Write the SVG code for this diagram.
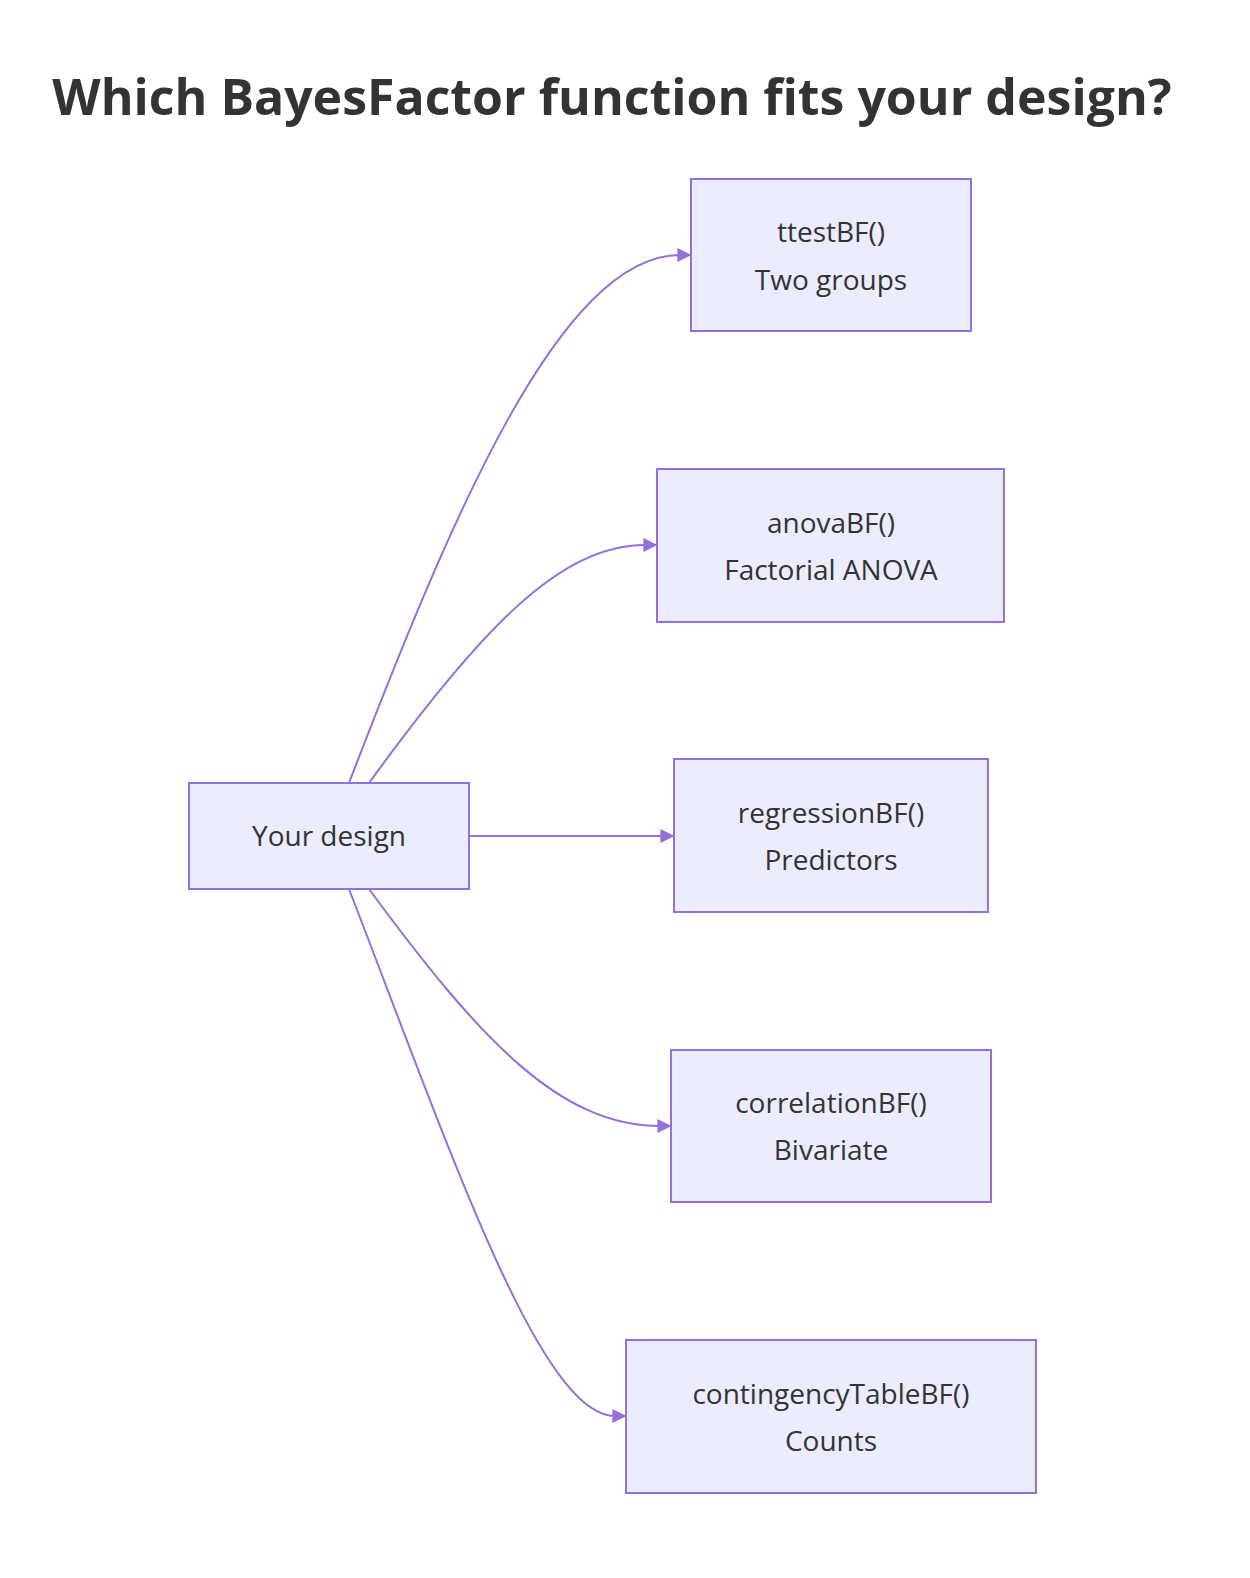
<svg xmlns="http://www.w3.org/2000/svg" width="1250" height="1578" viewBox="0 0 1250 1578">
<defs>
<style>
.n rect{fill:#ECECFF;stroke:#9370DB;stroke-width:2}
.n text{font-family:"Open Sans","Noto Sans",sans-serif;font-size:28px;fill:#333;text-anchor:middle}
.e path{fill:none;stroke:#9370DB;stroke-width:2}
</style>
<marker id="a" viewBox="0 0 10 10" refX="9" refY="5" markerWidth="7" markerHeight="7" orient="auto"><path d="M0,0L10,5L0,10z" fill="#9370DB"/></marker>
</defs>
<rect width="1250" height="1578" fill="#fff"/>
<text x="612" y="115" text-anchor="middle" font-family="'Open Sans','Noto Sans',sans-serif" font-size="50" font-weight="bold" fill="#333">Which BayesFactor function fits your design?</text>
<g class="e">
<path d="M349,783 C450,520 560,255 680,255 L690,255" marker-end="url(#a)"/>
<path d="M369,783 C480,630 560,545 645,545 L656,545" marker-end="url(#a)"/>
<path d="M469,836 L673,836" marker-end="url(#a)"/>
<path d="M369,889 C480,1040 560,1126 660,1126 L670,1126" marker-end="url(#a)"/>
<path d="M349,889 C450,1150 540,1416 615,1416 L625,1416" marker-end="url(#a)"/>
</g>
<g id="design" class="n"><rect x="189" y="783" width="280" height="106"/><text x="329" y="846">Your design</text></g>
<g id="ttest" class="n"><rect x="691" y="179" width="280" height="152"/><text x="831" y="242">ttestBF()</text><text x="831" y="290">Two groups</text></g>
<g id="anova" class="n"><rect x="657" y="469" width="347" height="153"/><text x="831" y="533">anovaBF()</text><text x="831" y="580">Factorial ANOVA</text></g>
<g id="regression" class="n"><rect x="674" y="759" width="314" height="153"/><text x="831" y="823">regressionBF()</text><text x="831" y="870">Predictors</text></g>
<g id="correlation" class="n"><rect x="671" y="1050" width="320" height="152"/><text x="831" y="1113">correlationBF()</text><text x="831" y="1160">Bivariate</text></g>
<g id="contingency" class="n"><rect x="626" y="1340" width="410" height="153"/><text x="831" y="1404">contingencyTableBF()</text><text x="831" y="1451">Counts</text></g>
</svg>
